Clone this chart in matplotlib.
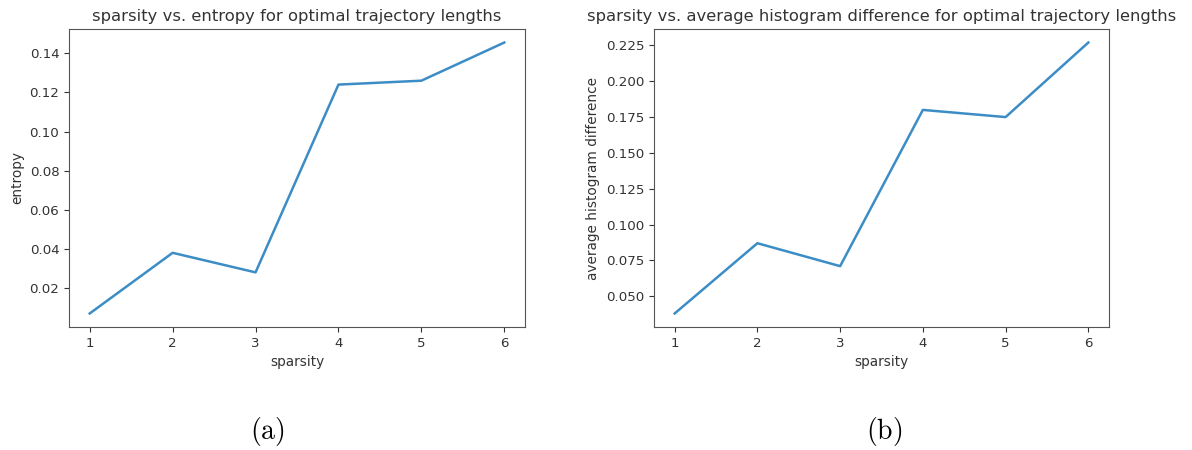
import matplotlib
matplotlib.use("Agg")
import matplotlib.pyplot as plt

# data
sparsity = [1, 2, 3, 4, 5, 6]
entropy = [0.007, 0.038, 0.028, 0.124, 0.126, 0.1455]
hist_diff = [0.038, 0.087, 0.071, 0.180, 0.175, 0.227]

plt.rcParams['mathtext.fontset'] = 'cm'
text_color = '#333333'
W, H = 1192, 450

fig = plt.figure(figsize=(W / 100, H / 100), dpi=100)

# left panel
ax1 = fig.add_axes([69 / W, 1 - 327 / H, 456 / W, 298 / H])
ax1.plot(sparsity, entropy, color='#3c8dc6', linewidth=1.8)
ax1.set_title("sparsity vs. entropy for optimal trajectory lengths", fontsize=11.8, color=text_color)
ax1.set_xlabel("sparsity", color=text_color, fontsize=9.8)
ax1.set_ylabel("entropy", color=text_color, fontsize=9.8)

# right panel
ax2 = fig.add_axes([654 / W, 1 - 327 / H, 455 / W, 298 / H])
ax2.plot(sparsity, hist_diff, color='#3c8dc6', linewidth=1.8)
ax2.set_title("sparsity vs. average histogram difference for optimal trajectory lengths",
              fontsize=11.8, color=text_color)
ax2.set_xlabel("sparsity", color=text_color, fontsize=9.8)
ax2.set_ylabel("average histogram difference", color=text_color, fontsize=9.8)

for ax in (ax1, ax2):
    ax.tick_params(colors=text_color, labelsize=9.6)
    for sp in ax.spines.values():
        sp.set_color('#555555')

# sub-figure captions
fig.text(267 / W, 1 - 432 / H, r'$\mathrm{(a)}$', fontsize=20, ha='center', va='center')
fig.text(884 / W, 1 - 432 / H, r'$\mathrm{(b)}$', fontsize=20, ha='center', va='center')

fig.savefig("out.png", dpi=100)
